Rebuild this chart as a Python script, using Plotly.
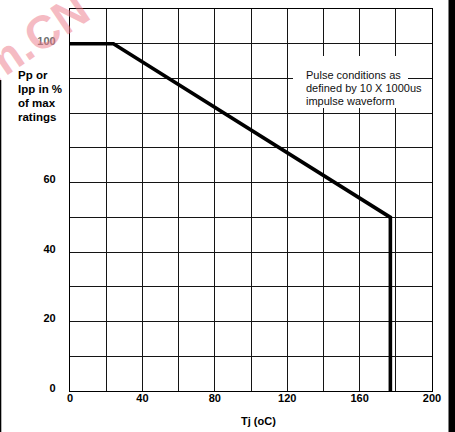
import plotly.graph_objects as go

# Data
tj = [0, 24, 177, 177]
pct = [100, 100, 50, 0]

x_grid = list(range(0, 201, 20))
x_labels = ["0", "", "40", "", "80", "", "120", "", "160", "", "200"]
y_grid = list(range(0, 111, 10))
y_labels = ["0", "", "20", "", "40", "", "60", "", "", "", "<span style='color:#6e6e6e'>100</span>", ""]

note_lines = ["Pulse conditions as", "defined by 10 X 1000us", "impulse waveform"]

# figure size; page body margin is removed so the figure fills the window
W, H = 455, 432
PL, PR, PT, PB = 70, 432, 9, 391   # plot box in pixels
L, R, T, B = PL, W - PR, PT, H - PB
pw, ph = PR - PL, PB - PT

def px(x):
    return (x - PL) / pw

def py(y):
    return (PB - y) / ph

FONT = "Liberation Sans, Arial, sans-serif"

fig = go.Figure()
fig.add_trace(go.Scatter(x=tj, y=pct, mode="lines",
                         line=dict(color="black", width=3.6),
                         hoverinfo="skip", showlegend=False))

fig.update_layout(
    width=W, height=H,
    margin=dict(l=L, r=R, t=T, b=B, pad=0, autoexpand=False),
    paper_bgcolor="white", plot_bgcolor="white",
    font=dict(family=FONT, color="black"),
    showlegend=False,
)
fig.update_xaxes(range=[0, 200], tickvals=x_grid, ticktext=x_labels,
                 showgrid=True, gridcolor="#141414", gridwidth=1,
                 showline=True, linecolor="black", linewidth=1.3, mirror=True,
                 zeroline=False, ticks="", ticklabelstandoff=-3, automargin=False,
                 tickfont=dict(size=11, family=FONT, weight="bold", color="black"))
fig.update_yaxes(range=[0, 110], tickvals=y_grid, ticktext=y_labels,
                 showgrid=True, gridcolor="#141414", gridwidth=1,
                 showline=True, linecolor="black", linewidth=1.3, mirror=True,
                 zeroline=False, ticks="", ticklabelstandoff=11, ticklabelshift=-3,
                 automargin=False,
                 tickfont=dict(size=11, family=FONT, weight="bold", color="black"))

# watermark
fig.add_annotation(text="m.CN", xref="paper", yref="paper", x=px(34), y=py(38),
                   xanchor="center", yanchor="middle", showarrow=False, textangle=-34,
                   font=dict(size=46, family=FONT, weight="bold", color="rgba(236,120,135,0.5)"))

# white box behind note
fig.add_shape(type="rect", xref="paper", yref="paper",
              x0=px(293), x1=px(408), y0=py(108), y1=py(56),
              fillcolor="white", line=dict(width=0), layer="above")
for t, yc in zip(note_lines, [75.5, 88.5, 101]):
    fig.add_annotation(text=t, xref="paper", yref="paper", x=px(304), y=py(yc),
                       xanchor="left", yanchor="middle", showarrow=False,
                       font=dict(size=11, family=FONT, color="#111"))

# y title
for t, yc in zip(["Pp or", "Ipp in %", "of max", "ratings"], [75, 89, 103, 116.5]):
    fig.add_annotation(text=t, xref="paper", yref="paper", x=px(16), y=py(yc),
                       xanchor="left", yanchor="middle", showarrow=False,
                       font=dict(size=11.5, family=FONT, weight="bold", color="black"))

# x title
fig.add_annotation(text="Tj (oC)", xref="paper", yref="paper", x=px(258.5), y=py(421),
                   xanchor="center", yanchor="middle", showarrow=False,
                   font=dict(size=11, family=FONT, weight="bold", color="black"))

# page edge bars
fig.add_shape(type="rect", xref="paper", yref="paper",
              x0=px(448.5), x1=px(456), y0=py(433), y1=py(-1),
              fillcolor="black", line=dict(width=0), layer="above")
fig.add_shape(type="rect", xref="paper", yref="paper",
              x0=px(-1), x1=px(1.3), y0=py(433), y1=py(80),
              fillcolor="black", line=dict(width=0), layer="above")

fig.write_html("out.html", config={"displayModeBar": False},
               post_script="document.body.style.margin='0px';")
